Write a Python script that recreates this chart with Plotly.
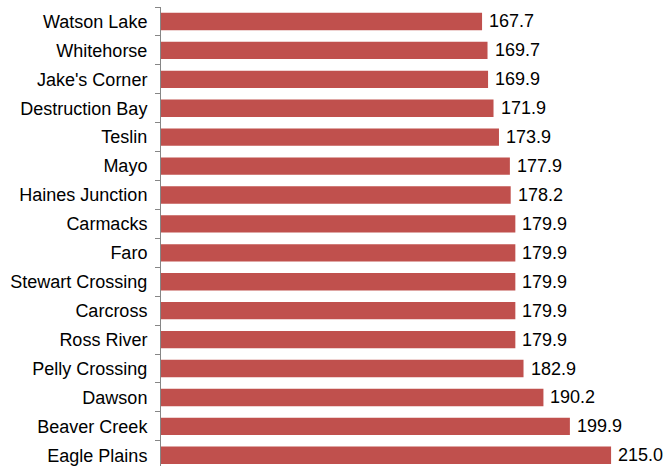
import plotly.graph_objects as go

communities = ["Watson Lake", "Whitehorse", "Jake's Corner", "Destruction Bay", "Teslin",
               "Mayo", "Haines Junction", "Carmacks", "Faro", "Stewart Crossing",
               "Carcross", "Ross River", "Pelly Crossing", "Dawson", "Beaver Creek",
               "Eagle Plains"]
prices = [167.7, 169.7, 169.9, 171.9, 173.9, 177.9, 178.2, 179.9, 179.9, 179.9,
          179.9, 179.9, 182.9, 190.2, 199.9, 215.0]

FONT = "Liberation Sans, Arial, sans-serif"

fig = go.Figure()
fig.add_trace(go.Bar(
    y=communities, x=prices, orientation="h",
    marker=dict(color="#C0504D", line=dict(width=0)),
    width=0.6,
    hoverinfo="x+y",
))

annotations = [
    dict(x=v, y=c, xref="x", yref="y", text=f"{v:.1f}", showarrow=False,
         xanchor="left", yanchor="middle", xshift=5,
         font=dict(family=FONT, size=18, color="#000000"))
    for c, v in zip(communities, prices)
]

fig.update_layout(
    width=665, height=466,
    margin=dict(l=161, r=13, t=7, b=0, pad=0, autoexpand=False),
    paper_bgcolor="white", plot_bgcolor="white",
    showlegend=False,
    annotations=annotations,
    xaxis=dict(range=[50, 230], visible=False, showgrid=False, zeroline=False,
               automargin=False),
    yaxis=dict(
        type="category",
        categoryorder="array", categoryarray=communities,
        range=[15.37, -0.5],
        automargin=False,
        showline=True, linecolor="#868686", linewidth=1,
        ticks="outside", ticklen=5, tickcolor="#868686", tickwidth=1,
        tickson="boundaries",
        showgrid=False, zeroline=False,
        tickfont=dict(family=FONT, size=18, color="#000000"),
        ticklabelstandoff=9,
    ),
)

fig.write_html(
    "out.html",
    config={"displayModeBar": False},
    post_script="document.body.style.margin='0';document.body.style.overflow='hidden';",
)
